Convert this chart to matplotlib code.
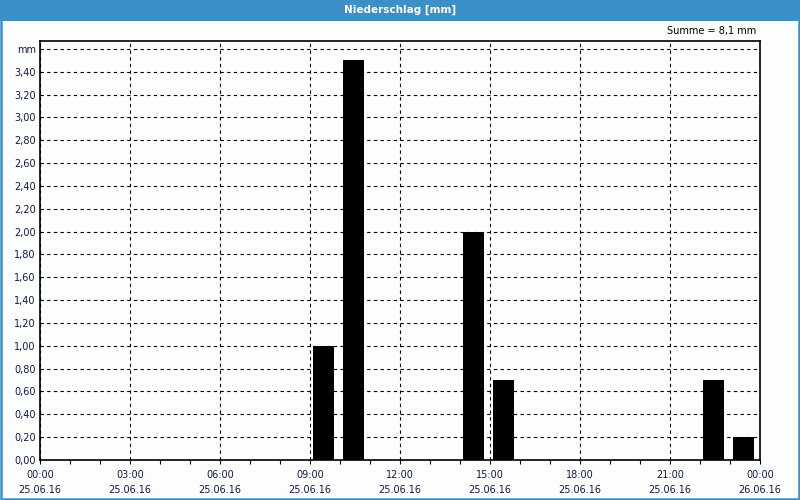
import matplotlib
matplotlib.use('Agg')
import matplotlib.pyplot as plt
from matplotlib.patches import Rectangle
from matplotlib.ticker import FixedLocator, MultipleLocator

# Niederschlag pro Stunde (Stunde ab 25.06.16 00:00)
stunden = [9, 10, 14, 15, 22, 23]
werte = [1.0, 3.5, 2.0, 0.7, 0.7, 0.2]

x_ticks = [0, 3, 6, 9, 12, 15, 18, 21, 24]
x_labels = ['00:00\n25.06.16', '03:00\n25.06.16', '06:00\n25.06.16', '09:00\n25.06.16',
            '12:00\n25.06.16', '15:00\n25.06.16', '18:00\n25.06.16', '21:00\n25.06.16',
            '00:00\n26.06.16']

blau = '#3c8fc7'
textfarbe = '#15154a'

fig = plt.figure(figsize=(8, 5), dpi=100)
fig.patch.set_facecolor('#fcfefd')

# Titelleiste und Rahmen
fig.patches.append(Rectangle((0, 1 - 21 / 500), 1, 21 / 500, transform=fig.transFigure,
                             facecolor=blau, edgecolor='none', zorder=0))
fig.patches.append(Rectangle((0.001, 0.002), 0.998, 0.997, transform=fig.transFigure,
                             facecolor='none', edgecolor=blau, linewidth=1.8, zorder=5))
fig.text(0.5, 1 - 10 / 500, 'Niederschlag [mm]', color='white', fontsize=7.5,
         fontweight='bold', ha='center', va='center')

ax = fig.add_axes([40 / 800, 40 / 500, 720 / 800, 419 / 500])
ax.set_facecolor('#fcfefd')

ax.bar([s + 0.1 for s in stunden], werte, width=0.7, align='edge', color='black', zorder=3)

ax.set_xlim(0, 24)
ax.set_ylim(0, 3.67)

ax.set_xticks(x_ticks)
ax.set_xticklabels(x_labels, fontsize=7, color=textfarbe, linespacing=1.65)
ax.xaxis.set_minor_locator(MultipleLocator(1))
ax.tick_params(axis='x', which='both', direction='out', length=3, width=0.8, pad=4)

y_ticks = [round(i * 0.2, 2) for i in range(19)]
ax.yaxis.set_major_locator(FixedLocator(y_ticks))
y_labels = [('%.2f' % v).replace('.', ',') for v in y_ticks]
y_labels[-1] = 'mm'
ax.set_yticklabels(y_labels, fontsize=7, color=textfarbe)
ax.tick_params(axis='y', direction='out', length=0, pad=3)

ax.grid(True, axis='y', linestyle=(0, (3, 3)), color='black', linewidth=0.8, zorder=1)
ax.grid(True, axis='x', which='major', linestyle=(0, (3, 3)), color='black', linewidth=0.8, zorder=1)
ax.set_axisbelow(True)

for s in ax.spines.values():
    s.set_linewidth(1.2)

fig.text(756 / 800, 1 - 31 / 500, 'Summe = 8,1 mm', fontsize=7, color='black',
         ha='right', va='center')

fig.savefig('out.png', dpi=100, facecolor=fig.get_facecolor())
